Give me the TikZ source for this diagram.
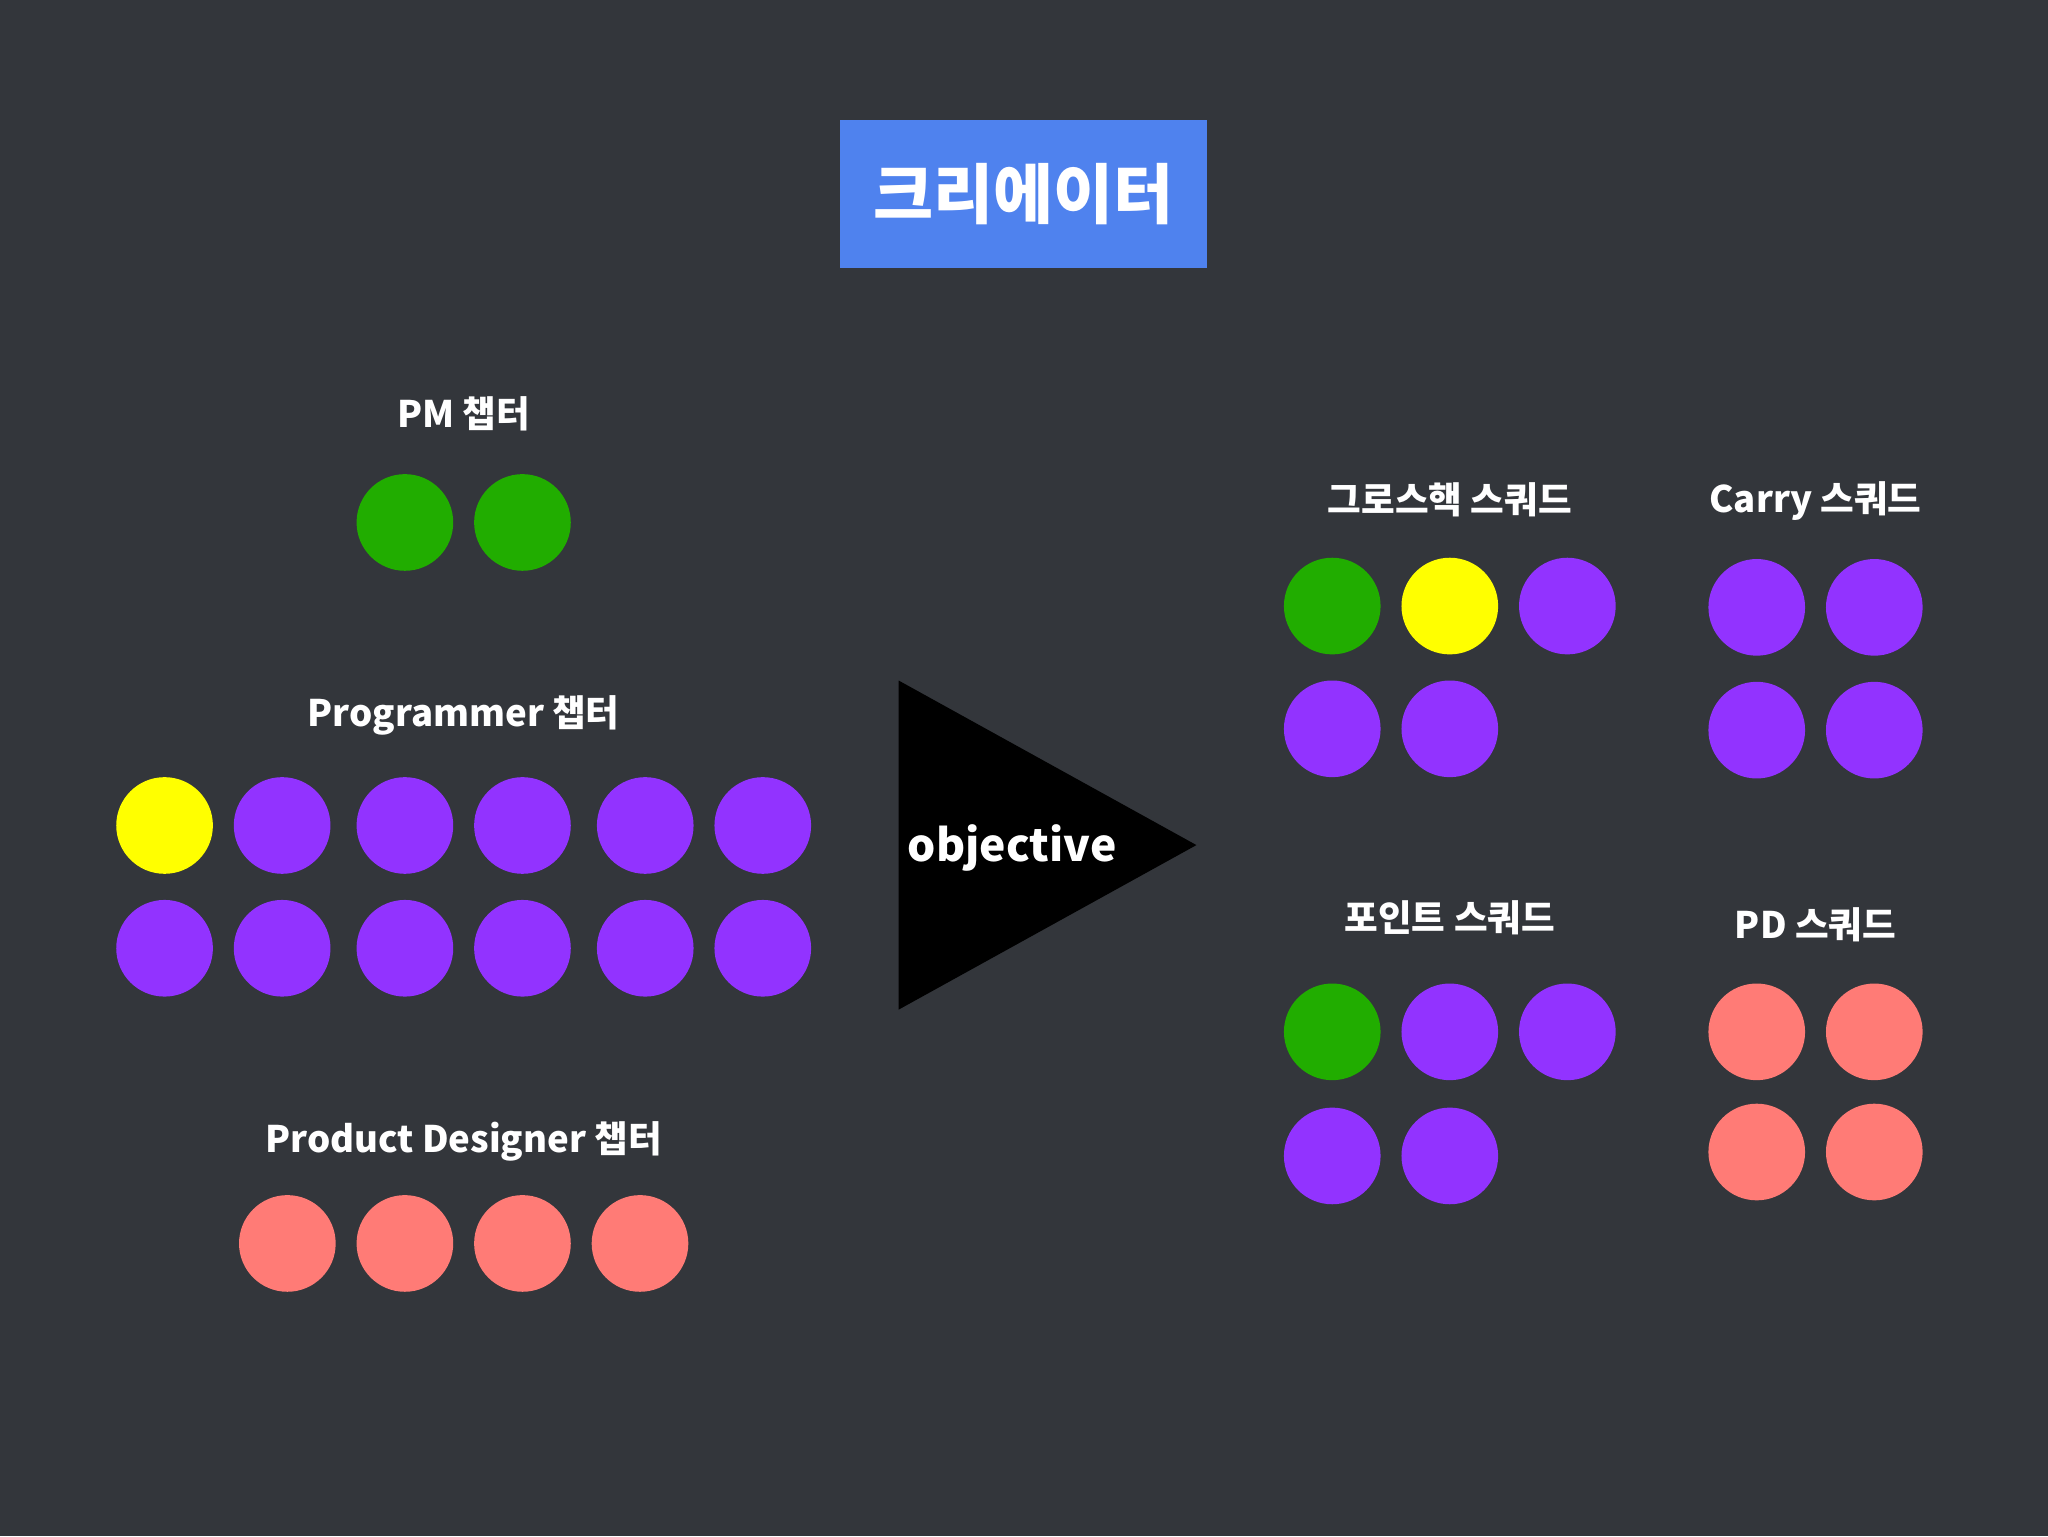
\documentclass[tikz,border=0pt]{standalone}
\usepackage{fontspec}
\setmainfont{Noto Sans CJK KR}
\definecolor{bg}{HTML}{33363B}
\definecolor{tb}{HTML}{4F82EE}
\definecolor{gr}{HTML}{21AD00}
\definecolor{pu}{HTML}{9233FF}
\definecolor{ye}{HTML}{FFFF00}
\definecolor{sa}{HTML}{FF7B76}
\tikzset{
 dot/.style={circle,minimum size=74pt,inner sep=0pt},
 lbl/.style={text=white,font=\bfseries\fontsize{28}{30}\selectfont}
}
\begin{document}
\begin{tikzpicture}[x=1pt,y=-1pt]
\fill[bg] (0,0) rectangle (1568,1176);
\useasboundingbox (0,0) rectangle (1568,1176);
\node[fill=tb,minimum width=281pt,minimum height=113pt,text=white,font=\bfseries\fontsize{50}{52}\selectfont] (title) at (783.5,148.5) {크리에이터};
\node[lbl] (pm) at (355,317) {PM 챕터};
\foreach \x/\i in {310/1,400/2} \node[dot,fill=gr] (pm\i) at (\x,400) {};
\node[lbl] (prog) at (355,548) {Programmer 챕터};
\node[dot,fill=ye] (p1) at (126,632) {};
\foreach \x/\i in {216/2,310/3,400/4,494/5,584/6} \node[dot,fill=pu] (p\i) at (\x,632) {};
\foreach \x/\i in {126/1,216/2,310/3,400/4,494/5,584/6} \node[dot,fill=pu] (q\i) at (\x,726) {};
\node[lbl] (pd) at (355,874) {Product Designer 챕터};
\foreach \x/\i in {220/1,310/2,400/3,490/4} \node[dot,fill=sa] (d\i) at (\x,952) {};
\fill[black] (688,521) -- (688,773) -- (916,647) -- cycle;
\node[text=white,font=\bfseries\fontsize{34}{36}\selectfont] (obj) at (775,649) {objective};
\node[lbl] (gh) at (1110,383) {그로스핵 스쿼드};
\node[dot,fill=gr] (g1) at (1020,464) {};
\node[dot,fill=ye] (g2) at (1110,464) {};
\node[dot,fill=pu] (g3) at (1200,464) {};
\node[dot,fill=pu] (g4) at (1020,558) {};
\node[dot,fill=pu] (g5) at (1110,558) {};
\node[lbl] (ca) at (1390,384) {Carry 스쿼드};
\foreach \x/\y/\i in {1345/465/1,1435/465/2,1345/559/3,1435/559/4} \node[dot,fill=pu] (c\i) at (\x,\y) {};
\node[lbl] (pt) at (1110,703) {포인트 스쿼드};
\node[dot,fill=gr] (t1) at (1020,790) {};
\node[dot,fill=pu] (t2) at (1110,790) {};
\node[dot,fill=pu] (t3) at (1200,790) {};
\node[dot,fill=pu] (t4) at (1020,885) {};
\node[dot,fill=pu] (t5) at (1110,885) {};
\node[lbl] (pds) at (1390,708) {PD 스쿼드};
\foreach \x/\y/\i in {1345/790/1,1435/790/2,1345/882/3,1435/882/4} \node[dot,fill=sa] (s\i) at (\x,\y) {};
\end{tikzpicture}
\end{document}
